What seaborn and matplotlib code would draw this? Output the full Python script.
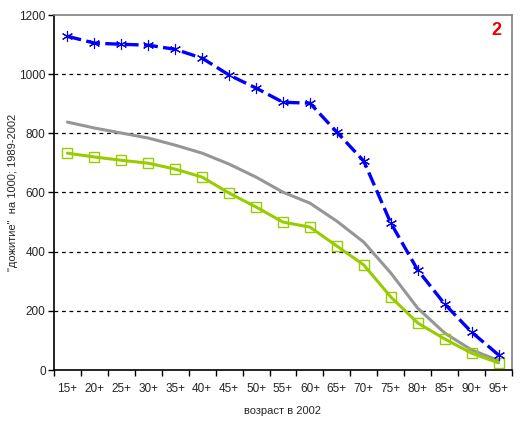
import numpy as np
import pandas as pd
import matplotlib
matplotlib.use("Agg")
import matplotlib.pyplot as plt
import seaborn as sns

# данные
ages = ["15+", "20+", "25+", "30+", "35+", "40+", "45+", "50+", "55+",
        "60+", "65+", "70+", "75+", "80+", "85+", "90+", "95+"]
blue_vals = [1128, 1105, 1101, 1098, 1084, 1054, 997, 953, 905,
             902, 804, 706, 497, 338, 223, 128, 51]
gray_vals = [838, 818, 801, 784, 760, 733, 696, 652, 601,
             564, 503, 432, 328, 209, 125, 68, 32]
green_vals = [733, 720, 709, 699, 679, 652, 598, 551, 500,
              483, 419, 355, 247, 159, 105, 57, 24]

sns.set_style("white")
plt.rcParams['font.family'] = ['Liberation Sans', 'DejaVu Sans']

df = pd.DataFrame({"age": ages, "blue": blue_vals,
                   "gray": gray_vals, "green": green_vals})

fig = plt.figure(figsize=(5.26, 4.23), dpi=100)
ax = fig.add_axes([54 / 526, 1 - 370 / 423, 458 / 526, 355 / 423])

sns.lineplot(data=df, x="age", y="gray", ax=ax, color="#969696",
             linewidth=2.2, sort=False)
sns.lineplot(data=df, x="age", y="green", ax=ax, color="#99cc00",
             linewidth=2.2, marker="s", markersize=6.5,
             markerfacecolor="none", markeredgecolor="#99cc00",
             markeredgewidth=1.0, sort=False)
sns.lineplot(data=df, x="age", y="blue", ax=ax, color="#0000ff",
             linewidth=2.4, sort=False, linestyle=(0, (4.2, 1.6)))
ax.plot(np.arange(len(ages)), blue_vals, linestyle="none", marker=(6, 2, 0),
        markersize=8, markeredgecolor="#0000ee", markeredgewidth=0.8)

ax.set_xlim(-0.5, len(ages) - 0.5)
ax.set_ylim(0, 1200)
ax.set_yticks(range(0, 1201, 200))
ax.set_xticks(range(len(ages)))
ax.set_xticklabels(ages)
ax.set_xticks(np.arange(-0.5, len(ages), 1), minor=True)
ax.tick_params(axis="x", which="major", length=0, pad=9, labelsize=8.5)
ax.tick_params(axis="x", which="minor", length=4, width=1, color="black",
               direction="out", bottom=True)
ax.tick_params(axis="y", length=4, width=1, color="black", direction="out",
               left=True, labelsize=8.5, pad=2)

for y in range(200, 1001, 200):
    ax.axhline(y, color="black", linewidth=0.9, linestyle=(0, (3, 3)), zorder=0)

for side in ["top", "right"]:
    ax.spines[side].set_color("#808080")
    ax.spines[side].set_linewidth(1.2)
for side in ["left", "bottom"]:
    ax.spines[side].set_color("black")
    ax.spines[side].set_linewidth(1.2)

ax.set_xlabel("возраст в 2002", fontsize=8)
ax.set_ylabel('"дожитие"  на 1000; 1989-2002', fontsize=8)
ax.yaxis.set_label_coords(-0.079, 0.5)
ax.xaxis.set_label_coords(0.5, -0.1)

ax.text(0.965, 0.955, "2", transform=ax.transAxes, color="#ee0000",
        fontsize=13, fontweight="bold", ha="center", va="center")

fig.savefig("out.png", dpi=100)
